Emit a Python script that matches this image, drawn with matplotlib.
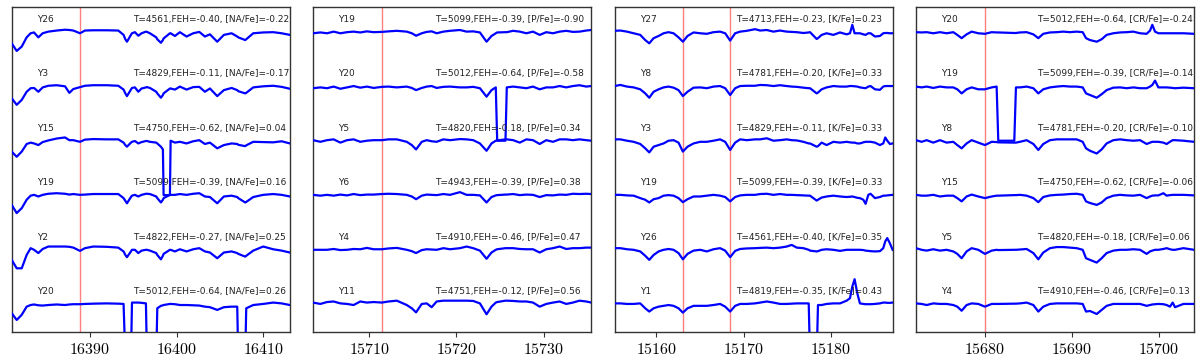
import numpy as np
import matplotlib
matplotlib.use("Agg")
import matplotlib.pyplot as plt
from matplotlib.ticker import FuncFormatter

plt.rcParams['mathtext.fontset'] = 'cm'

# ---------------- Na panel ----------------
wave_na = [16380.96, 16381.54, 16382.12, 16382.69, 16383.15, 16383.54, 16384.04, 16384.54, 16385.19, 16386.15,
           16387.12, 16387.62, 16388.08, 16388.85, 16389.42, 16390.38, 16391.92, 16393.27, 16393.88, 16394.08,
           16394.27, 16394.73, 16394.85, 16395.19, 16395.58, 16395.96, 16396.46, 16396.58, 16396.92, 16397.65,
           16397.77, 16398.19, 16398.42, 16398.50, 16399.23, 16399.31, 16399.81, 16400.38, 16401.15, 16401.92,
           16402.62, 16403.27, 16403.85, 16404.69, 16405.46, 16406.35, 16407.00, 16407.12, 16407.92, 16408.04,
           16408.85, 16410.00, 16411.15, 16412.12, 16413.08]
flux_na = [
    [0.79, 0.65, 0.73, 0.90, 0.975, 0.99, 0.90, 0.975, 1.005, 1.025, 1.04, 1.035, 1.025, 0.975, 1.025, 1.03, 1.03, 1.025, 0.945, 0.865,
     0.82, 0.945, 0.975, 0.995, 0.93, 0.975, 1.005, 1.0, 0.975, 0.90, 0.865, 0.80, 0.85, 0.88, 0.975, 0.975, 0.925, 0.995, 0.915, 0.975,
     1.0, 0.915, 0.955, 0.82, 0.945, 0.975, 0.915, 0.90, 0.85, 0.865, 0.975, 0.99, 0.995, 0.975, 0.945],
    [0.78, 0.66, 0.75, 0.90, 0.965, 0.97, 0.90, 0.98, 1.01, 1.02, 1.0, 0.88, 0.95, 0.985, 1.01, 1.02, 1.02, 1.01, 0.94, 0.87,
     0.82, 0.94, 0.97, 0.98, 0.90, 0.96, 0.98, 0.985, 0.97, 0.90, 0.87, 0.79, 0.84, 0.87, 0.96, 0.96, 0.94, 0.995, 0.94, 0.985,
     0.99, 0.90, 0.96, 0.82, 0.93, 0.97, 0.93, 0.91, 0.87, 0.88, 0.98, 1.0, 1.01, 0.99, 0.955],
    [0.80, 0.705, 0.80, 0.94, 0.965, 0.95, 0.92, 0.975, 1.005, 1.04, 1.06, 1.01, 1.01, 0.98, 1.02, 1.03, 1.025, 1.025, 0.965, 0.92,
     0.89, 0.965, 0.98, 0.995, 0.95, 0.975, 0.995, 0.995, 0.98, 0.965, 0.95, 0.89, 0.84, 0.0, 0.0, 1.0, 0.965, 0.98, 0.95, 0.99,
     1.01, 0.94, 0.965, 0.86, 0.92, 0.95, 0.94, 0.925, 0.90, 0.915, 0.98, 0.975, 0.97, 0.99, 0.95],
    [0.82, 0.67, 0.76, 0.915, 0.99, 1.005, 0.975, 1.005, 1.025, 1.035, 1.025, 1.01, 1.02, 1.005, 1.01, 1.02, 1.02, 1.02, 0.945, 0.895,
     0.85, 0.965, 0.99, 1.005, 0.975, 1.005, 1.025, 1.025, 1.02, 0.975, 0.945, 0.865, 0.915, 0.945, 1.005, 1.005, 1.005, 1.02, 1.005, 1.025,
     1.035, 0.975, 0.965, 0.85, 0.975, 0.99, 0.965, 0.945, 0.865, 0.875, 0.965, 1.005, 1.02, 1.005, 0.975],
    [0.81, 0.655, 0.655, 0.90, 1.025, 0.995, 0.935, 1.01, 1.055, 1.055, 1.055, 1.05, 1.035, 0.975, 1.025, 1.055, 1.05, 1.035, 0.965, 0.90,
     0.86, 0.965, 0.995, 0.995, 0.935, 0.98, 0.995, 0.995, 0.98, 0.935, 0.90, 0.82, 0.885, 0.92, 0.995, 0.995, 0.965, 1.005, 0.965, 1.005,
     1.025, 0.965, 0.945, 0.84, 0.945, 0.965, 0.935, 0.92, 0.87, 0.885, 0.98, 1.055, 1.005, 0.98, 0.945],
    [0.83, 0.705, 0.80, 0.95, 0.98, 0.99, 0.975, 0.97, 0.98, 0.99, 0.98, 0.99, 0.995, 0.995, 1.0, 1.005, 1.01, 1.005, 1.0, 0.0,
     0.0, 0.0, 1.025, 1.025, 1.025, 1.02, 1.01, 0.0, 0.0, 0.0, 0.92, 0.965, 0.975, 0.98, 1.0, 1.0, 0.995, 0.98, 0.98, 0.975,
     0.97, 0.95, 0.94, 0.89, 0.94, 0.95, 0.95, 0.0, 0.0, 0.92, 0.98, 1.0, 1.025, 1.01, 0.98],
]
names_na = ['Y26', 'Y3', 'Y15', 'Y19', 'Y2', 'Y20']
teff_na = [4561, 4829, 4750, 5099, 4822, 5012]
feh_na = [-0.40, -0.11, -0.62, -0.39, -0.27, -0.64]
abund_na = [-0.22, -0.17, 0.04, 0.16, 0.25, 0.26]
lines_na = [16388.9]
xlim_na = (16380.97, 16413.07)

# ---------------- P panel ----------------
wave_p = [15703.57, 15704.40, 15705.16, 15705.92, 15706.69, 15707.45, 15708.21, 15708.97, 15709.73, 15710.50,
          15711.45, 15712.21, 15713.16, 15714.30, 15714.88, 15715.37, 15716.02, 15716.59, 15717.16, 15717.73,
          15718.50, 15719.26, 15720.40, 15721.16, 15721.92, 15722.69, 15723.45, 15724.02, 15724.51, 15724.67,
          15725.62, 15725.77, 15726.50, 15727.26, 15728.02, 15728.78, 15729.54, 15730.30, 15731.07, 15731.83,
          15732.59, 15733.35, 15734.11, 15734.88, 15735.45]
flux_p = [
    [0.975, 0.99, 0.975, 1.005, 0.975, 0.995, 1.005, 0.99, 1.01, 0.995, 1.0, 1.01, 1.02, 1.005, 0.975, 0.93, 0.975, 1.0, 1.01, 0.975,
     1.005, 1.02, 1.035, 1.005, 1.01, 0.99, 0.82, 0.925, 0.975, 0.99, 0.995, 0.995, 1.02, 1.005, 0.975, 1.005, 0.945, 0.995, 0.975, 1.005,
     1.02, 1.0, 1.005, 1.025, 1.035],
    [0.965, 0.98, 0.965, 0.995, 0.955, 0.98, 1.005, 0.975, 0.995, 0.97, 0.99, 0.995, 0.98, 0.995, 0.97, 0.93, 0.97, 0.995, 1.005, 0.97,
     0.99, 0.995, 0.98, 0.98, 0.99, 0.965, 0.81, 0.93, 0.98, 0.0, 0.0, 0.98, 0.995, 0.98, 0.965, 0.995, 0.945, 0.98, 0.98, 1.005,
     0.98, 1.005, 1.02, 0.995, 1.005],
    [1.01, 0.98, 1.01, 1.025, 0.965, 1.01, 1.025, 0.98, 1.0, 1.01, 1.01, 1.025, 1.025, 0.98, 0.92, 0.84, 0.98, 1.01, 0.99, 0.98,
     1.025, 1.01, 1.03, 1.025, 1.01, 0.95, 0.815, 0.95, 1.0, 1.005, 1.025, 1.025, 1.01, 0.965, 1.025, 1.01, 0.94, 1.01, 0.98, 1.025,
     1.025, 1.01, 1.025, 1.01, 1.0],
    [1.005, 0.99, 1.005, 0.99, 1.01, 0.995, 1.02, 1.0, 1.01, 1.01, 1.02, 1.025, 1.02, 1.005, 0.975, 0.925, 0.99, 1.01, 1.005, 1.0,
     1.02, 1.005, 1.055, 1.005, 1.005, 0.995, 0.865, 0.965, 0.995, 1.0, 1.01, 1.01, 1.02, 1.0, 1.01, 1.005, 0.965, 1.0, 0.995, 1.01,
     1.005, 1.025, 1.02, 1.025, 1.02],
    [0.995, 0.995, 0.995, 1.01, 0.99, 0.995, 1.01, 1.005, 1.03, 1.005, 1.005, 1.02, 1.03, 0.995, 0.97, 0.935, 0.99, 1.005, 1.0, 0.995,
     1.025, 1.005, 1.025, 1.055, 1.025, 0.98, 0.83, 0.945, 0.995, 1.005, 1.025, 1.025, 1.025, 1.01, 1.005, 1.005, 0.945, 1.005, 1.025, 1.055,
     1.01, 1.025, 1.025, 1.035, 1.035],
    [1.025, 1.0, 1.035, 1.045, 1.01, 1.0, 0.98, 1.045, 1.025, 1.035, 1.025, 1.045, 1.06, 0.98, 0.92, 0.845, 1.0, 1.01, 0.94, 1.045,
     1.06, 1.06, 1.06, 1.06, 1.055, 1.01, 0.81, 0.95, 1.025, 1.035, 1.06, 1.06, 1.055, 1.045, 1.045, 1.025, 0.95, 1.0, 1.025, 1.045,
     1.0, 1.025, 1.06, 1.045, 1.025],
]
names_p = ['Y19', 'Y20', 'Y5', 'Y6', 'Y4', 'Y11']
teff_p = [5099, 5012, 4820, 4943, 4910, 4751]
feh_p = [-0.39, -0.64, -0.18, -0.39, -0.46, -0.12]
abund_p = [-0.90, -0.58, 0.34, 0.38, 0.47, 0.56]
lines_p = [15711.45]
xlim_p = (15703.57, 15735.45)

# ---------------- K panel ----------------
wave_k = [15155.23, 15155.89, 15156.65, 15157.41, 15158.17, 15158.74, 15159.20, 15159.70, 15160.27, 15160.84,
          15161.41, 15161.98, 15162.55, 15163.05, 15163.58, 15164.27, 15165.03, 15165.79, 15166.55, 15167.31,
          15167.89, 15168.46, 15169.03, 15169.60, 15170.36, 15171.31, 15171.89, 15172.65, 15173.41, 15174.17,
          15174.93, 15175.50, 15176.08, 15176.84, 15177.45, 15177.60, 15178.36, 15178.51, 15178.93, 15179.50,
          15180.27, 15181.03, 15181.79, 15182.17, 15182.44, 15182.70, 15183.01, 15183.31, 15183.70, 15183.96,
          15184.27, 15184.53, 15185.03, 15185.60, 15185.98, 15186.21, 15186.44, 15186.74, 15187.05]
flux_k = [
    [1.02, 1.025, 1.005, 0.975, 0.945, 0.85, 0.79, 0.885, 0.925, 0.975, 0.995, 0.975, 0.90, 0.82, 0.925, 0.99, 0.975, 0.965, 0.995, 1.005,
     0.975, 0.84, 0.975, 1.005, 1.02, 1.05, 1.025, 1.035, 1.005, 1.025, 1.005, 1.0, 0.995, 0.98, 0.99, 0.995, 0.87, 0.885, 0.945, 0.975,
     0.945, 0.99, 0.955, 0.975, 1.13, 0.975, 0.975, 0.975, 0.955, 0.945, 0.975, 0.975, 0.915, 0.925, 0.975, 0.98, 0.98, 0.975, 0.975],
    [1.005, 1.025, 0.995, 0.98, 0.945, 0.87, 0.79, 0.90, 0.945, 0.98, 0.995, 0.975, 0.93, 0.82, 0.90, 0.975, 0.98, 0.965, 0.995, 1.005,
     0.965, 0.84, 0.965, 1.005, 1.01, 1.01, 1.025, 1.02, 1.005, 1.02, 1.005, 0.995, 0.99, 0.975, 0.965, 0.965, 0.87, 0.885, 0.945, 0.98,
     1.005, 0.995, 0.995, 1.005, 1.005, 1.0, 0.995, 0.98, 0.97, 0.965, 0.995, 1.005, 0.945, 0.935, 0.995, 1.005, 1.005, 1.005, 1.005],
    [1.025, 1.025, 1.0, 0.98, 0.94, 0.86, 0.785, 0.89, 0.92, 0.95, 1.0, 1.01, 0.965, 0.80, 0.89, 0.95, 0.98, 0.98, 1.0, 1.025,
     0.98, 0.83, 0.965, 1.025, 1.01, 1.025, 1.025, 1.045, 1.0, 1.01, 1.025, 1.01, 1.005, 0.98, 0.95, 0.95, 0.89, 0.90, 0.965, 0.92,
     0.98, 0.965, 0.98, 0.97, 0.965, 0.965, 0.95, 0.95, 0.97, 0.98, 0.98, 0.98, 0.965, 0.92, 0.95, 1.06, 1.0, 0.94, 0.95],
    [1.005, 1.005, 0.995, 0.99, 0.945, 0.915, 0.865, 0.925, 0.945, 0.99, 1.0, 0.99, 0.945, 0.87, 0.925, 0.975, 0.975, 0.99, 1.005, 0.99,
     0.965, 0.885, 0.965, 0.995, 1.005, 1.005, 1.02, 1.025, 1.005, 1.02, 1.005, 1.005, 1.0, 0.995, 0.99, 0.99, 0.90, 0.915, 0.955, 0.975,
     0.99, 0.975, 0.965, 0.97, 0.975, 0.965, 0.95, 0.945, 0.915, 0.84, 1.005, 1.025, 0.945, 0.965, 0.99, 0.99, 0.995, 1.0, 1.005],
    [1.025, 1.025, 1.005, 0.995, 0.965, 0.885, 0.81, 0.90, 0.965, 0.995, 1.01, 0.995, 0.935, 0.82, 0.92, 0.98, 0.995, 0.965, 1.005, 1.025,
     0.98, 0.86, 0.975, 1.01, 1.02, 1.025, 1.03, 1.035, 1.025, 1.035, 1.055, 1.085, 1.035, 1.025, 0.995, 0.98, 0.965, 0.97, 0.995, 1.005,
     0.995, 0.975, 0.995, 0.995, 0.995, 0.995, 0.995, 0.995, 0.99, 0.98, 0.975, 0.97, 0.965, 0.97, 1.025, 1.15, 1.21, 1.115, 0.995],
    [1.01, 1.01, 1.0, 1.0, 1.01, 0.92, 0.86, 0.92, 0.95, 0.965, 0.98, 0.965, 0.92, 0.84, 0.92, 0.965, 0.965, 0.965, 0.98, 1.0,
     0.95, 0.86, 0.965, 1.0, 1.0, 1.01, 1.025, 1.045, 1.025, 1.0, 1.0, 1.005, 1.01, 1.01, 1.01, 0.0, 0.0, 0.98, 0.98, 1.0,
     1.01, 1.01, 1.06, 1.105, 1.32, 1.455, 1.195, 1.01, 1.0, 0.995, 0.995, 0.995, 1.0, 1.01, 1.025, 1.025, 1.02, 1.02, 1.025],
]
names_k = ['Y27', 'Y8', 'Y3', 'Y19', 'Y26', 'Y1']
teff_k = [4713, 4781, 4829, 5099, 4561, 4819]
feh_k = [-0.23, -0.20, -0.11, -0.39, -0.40, -0.35]
abund_k = [0.23, 0.33, 0.33, 0.33, 0.35, 0.43]
lines_k = [15163.1, 15168.45]
xlim_k = (15155.23, 15187.05)

# ---------------- Cr panel ----------------
wave_cr = [15672.07, 15672.72, 15673.30, 15674.06, 15674.83, 15675.59, 15676.36, 15676.82, 15677.32, 15677.89,
           15678.47, 15679.23, 15680.00, 15680.77, 15681.34, 15681.53, 15683.37, 15683.56, 15684.02, 15684.79,
           15685.56, 15686.13, 15686.70, 15687.47, 15688.24, 15689.00, 15689.77, 15690.54, 15691.23, 15691.61,
           15692.07, 15692.84, 15693.41, 15693.98, 15694.75, 15695.52, 15696.28, 15697.05, 15697.82, 15698.58,
           15698.97, 15699.23, 15699.54, 15699.92, 15700.50, 15700.88, 15701.26, 15701.57, 15701.84, 15702.80,
           15704.02]
flux_cr = [
    [0.995, 0.99, 0.995, 0.975, 0.995, 0.975, 0.995, 0.945, 0.885, 0.955, 1.005, 0.975, 0.965, 0.995, 0.99, 0.99, 0.98, 0.98, 0.99, 0.995,
     0.955, 0.885, 0.965, 0.99, 0.995, 1.005, 0.995, 1.005, 0.995, 0.885, 0.85, 0.82, 0.865, 0.945, 0.975, 0.99, 0.995, 1.005, 0.975, 0.965,
     1.025, 1.13, 1.005, 0.975, 0.975, 0.975, 0.975, 0.975, 0.975, 0.975, 0.965],
    [0.995, 0.98, 0.995, 0.97, 0.995, 0.98, 0.98, 0.945, 0.87, 0.945, 0.98, 0.945, 0.945, 0.98, 0.995, 0.0, 0.0, 0.98, 0.98, 0.995,
     0.965, 0.87, 0.945, 0.98, 0.995, 1.005, 0.995, 0.995, 0.98, 0.87, 0.84, 0.79, 0.855, 0.93, 0.975, 0.98, 0.965, 0.98, 0.965, 0.965,
     0.995, 1.025, 1.105, 0.98, 0.98, 0.98, 0.975, 0.97, 0.965, 0.975, 0.965],
    [1.01, 0.98, 1.01, 0.965, 1.01, 0.965, 0.98, 0.92, 0.86, 0.95, 1.01, 0.965, 0.92, 0.98, 0.975, 0.97, 0.965, 0.965, 0.98, 1.01,
     0.94, 0.83, 0.94, 1.01, 1.025, 1.025, 1.025, 1.025, 0.98, 0.86, 0.815, 0.765, 0.84, 0.95, 1.01, 1.025, 1.01, 1.0, 1.01, 0.94,
     0.965, 0.98, 0.98, 0.98, 0.965, 0.94, 0.98, 1.01, 1.01, 1.0, 0.98],
    [1.005, 0.99, 0.99, 1.005, 0.975, 0.99, 0.99, 0.945, 0.885, 0.975, 1.01, 0.975, 0.945, 0.975, 0.99, 0.99, 1.0, 1.0, 1.005, 0.99,
     0.945, 0.87, 0.965, 0.995, 1.005, 1.01, 1.02, 1.025, 1.005, 0.885, 0.855, 0.82, 0.865, 0.945, 0.99, 1.005, 0.995, 0.99, 1.005, 0.945,
     0.975, 0.99, 0.995, 0.995, 1.035, 0.99, 1.0, 1.005, 1.005, 1.005, 0.995],
    [1.025, 0.995, 0.98, 1.005, 0.98, 0.995, 0.965, 0.92, 0.84, 0.965, 1.025, 0.995, 0.92, 0.98, 0.995, 0.99, 0.995, 0.995, 1.0, 1.01,
     0.935, 0.82, 0.945, 1.025, 1.045, 1.045, 1.035, 1.025, 0.995, 0.84, 0.81, 0.76, 0.84, 0.935, 0.98, 0.995, 0.995, 1.005, 0.995, 0.92,
     0.965, 0.98, 0.995, 0.995, 1.01, 1.025, 1.005, 0.995, 0.995, 1.025, 0.995],
    [1.01, 1.0, 0.98, 1.01, 1.0, 1.0, 0.98, 0.95, 0.875, 0.98, 1.01, 1.0, 0.95, 1.0, 1.0, 1.0, 1.005, 1.005, 1.01, 1.025,
     0.98, 0.86, 0.95, 1.0, 1.01, 1.01, 1.01, 1.01, 1.0, 0.86, 0.87, 0.815, 0.89, 0.965, 1.0, 1.0, 1.0, 1.0, 1.0, 0.965,
     0.98, 0.99, 0.995, 1.0, 0.995, 0.98, 0.95, 1.025, 0.94, 1.0, 1.0],
]
names_cr = ['Y20', 'Y19', 'Y8', 'Y15', 'Y5', 'Y4']
teff_cr = [5012, 5099, 4781, 4750, 4820, 4910]
feh_cr = [-0.64, -0.39, -0.20, -0.62, -0.18, -0.46]
abund_cr = [-0.24, -0.14, -0.10, -0.06, 0.06, 0.13]
lines_cr = [15680.0]
xlim_cr = (15672.07, 15704.02)

panels = [
    ('NA', wave_na, flux_na, names_na, teff_na, feh_na, abund_na, lines_na, xlim_na, [16390, 16400, 16410]),
    ('P', wave_p, flux_p, names_p, teff_p, feh_p, abund_p, lines_p, xlim_p, [15710, 15720, 15730]),
    ('K', wave_k, flux_k, names_k, teff_k, feh_k, abund_k, lines_k, xlim_k, [15160, 15170, 15180]),
    ('CR', wave_cr, flux_cr, names_cr, teff_cr, feh_cr, abund_cr, lines_cr, xlim_cr, [15680, 15690, 15700]),
]

fig, axes = plt.subplots(1, 4, figsize=(12, 3.62), dpi=100)
fig.subplots_adjust(left=0.0098, right=0.995, bottom=0.083, top=0.981, wspace=0.084)

for ax, (elem, wave, flux, names, teff, feh, abund, lines, xlim, ticks) in zip(axes, panels):
    n = len(names)
    for i in range(n):
        off = n - 1 - i
        ax.plot(wave, np.array(flux[i]) + off, color='b', lw=1.6, zorder=3)
        ax.text(0.09, off + 1.23, names[i], transform=ax.get_yaxis_transform(),
                fontsize=6.5, color='#222222', va='center', ha='left')
        ax.text(0.437, off + 1.23, f'T={teff[i]},FEH={feh[i]:.2f}, [{elem}/Fe]={abund[i]:.2f}',
                transform=ax.get_yaxis_transform(), fontsize=6.5, color='#222222', va='center', ha='left')
    for w in lines:
        ax.axvline(w, color='r', alpha=0.5, lw=1, zorder=2)
    ax.set_xlim(xlim)
    ax.set_ylim(0.485, 6.46)
    ax.set_yticks([])
    ax.set_xticks(ticks)
    ax.xaxis.set_major_formatter(FuncFormatter(lambda v, p: f'${v:.0f}$'))
    ax.tick_params(axis='x', labelsize=11.5, length=3.5, width=0.8, color='#333333', pad=4)
    for s in ax.spines.values():
        s.set_color('#333333')
        s.set_linewidth(1.0)

fig.savefig('out.png', dpi=100)
